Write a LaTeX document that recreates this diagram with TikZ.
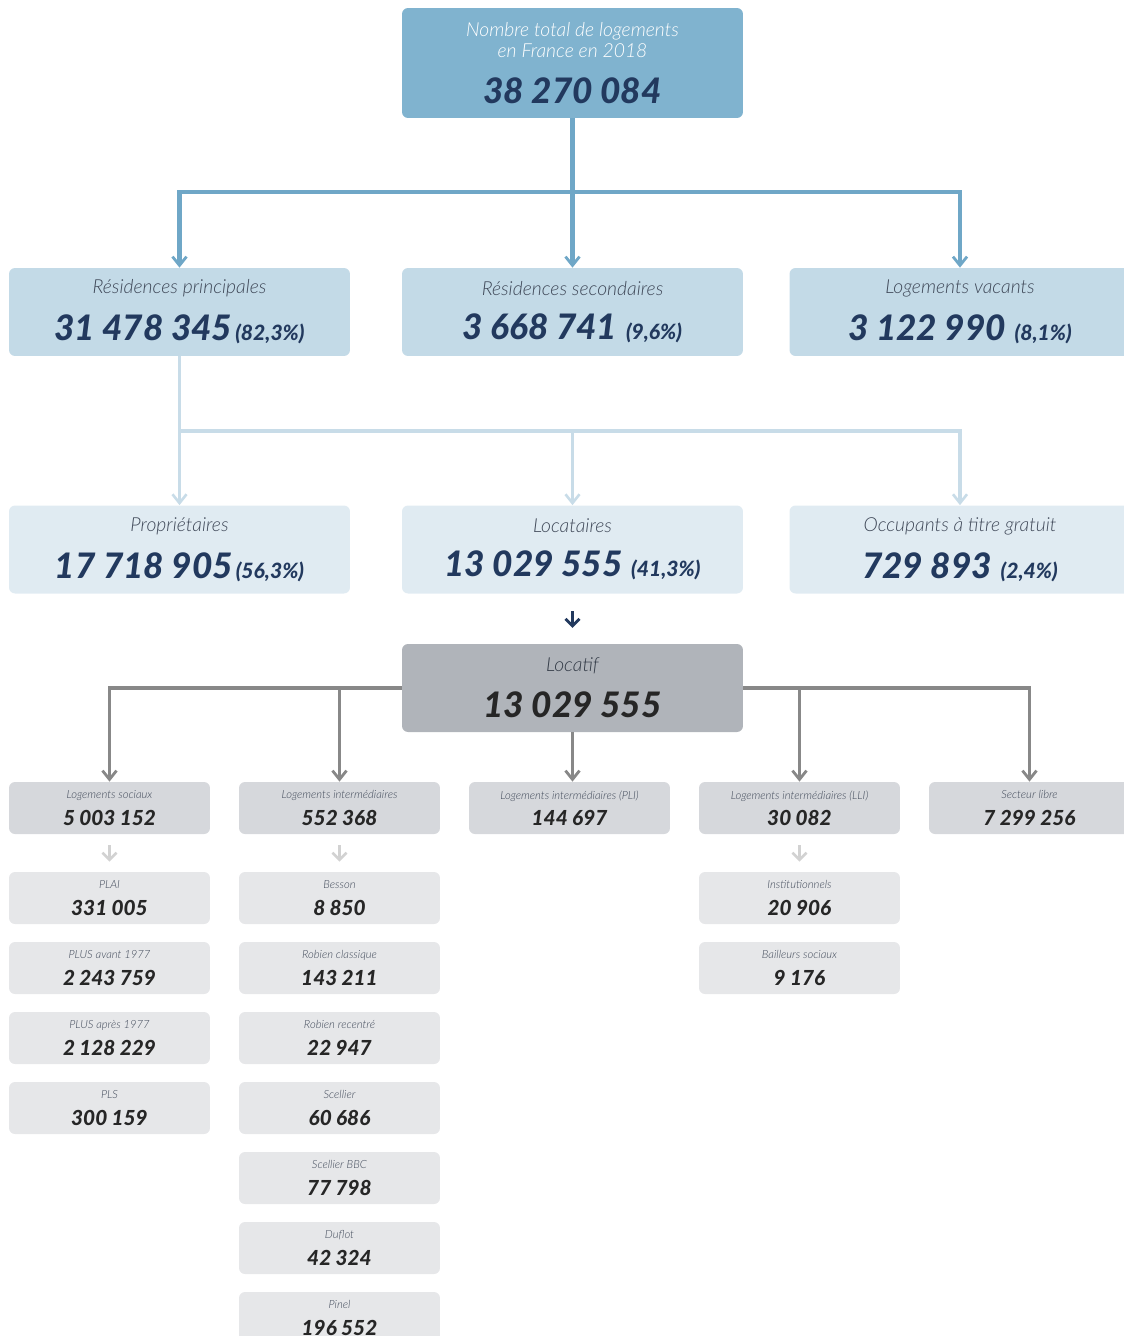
\documentclass[tikz,border=0pt]{standalone}
\usepackage{fontspec}
\setmainfont{Lato}
\IfFontExistsTF{Lato Black Italic}
  {\newfontfamily\heavyfam{Lato Black Italic}\newcommand{\heavyfont}{\heavyfam}}
  {\newfontfamily\heavyfam{Lato}[FakeBold=0.6]\newcommand{\heavyfont}{\heavyfam\bfseries\itshape}}
\IfFontExistsTF{Lato Light Italic}
  {\newfontfamily\lightfont{Lato Light Italic}}
  {\newcommand{\lightfont}{\itshape}}
\usetikzlibrary{arrows.meta, positioning, calc}
\definecolor{ctop}{HTML}{80B3CF}
\definecolor{cmid}{HTML}{C3DAE7}
\definecolor{clow}{HTML}{E0EBF2}
\definecolor{cnavy}{HTML}{22395E}
\definecolor{clabel}{HTML}{3F4858}
\definecolor{cline}{HTML}{6FA7C7}
\definecolor{clinelt}{HTML}{C8DCE8}
\definecolor{cloc}{HTML}{B0B4BA}
\definecolor{cgrey}{HTML}{888888}
\definecolor{cfour}{HTML}{D6D8DC}
\definecolor{csub}{HTML}{E6E7E9}
\definecolor{cfaint}{HTML}{D2D2D2}
\definecolor{cink}{HTML}{262626}
\newcommand{\lab}{\fontsize{11}{13.5}\selectfont\lightfont}
\newcommand{\bignumb}{\fontsize{20}{22}\selectfont\heavyfont}
\newcommand{\pct}{\fontsize{12}{13}\selectfont\heavyfont}
\newcommand{\smlab}{\fontsize{6.4}{8}\selectfont\lightfont}
\newcommand{\smnumb}{\fontsize{11.8}{13}\selectfont\heavyfont}
\tikzset{
  every picture/.style={x=0.02cm, y=-0.02cm},
  card/.style={fill=#1, rounded corners=3.4pt, align=center, inner sep=0pt},
  wide/.style={card=#1, minimum width=6.82cm, minimum height=1.76cm},
  narrow/.style={card=#1, minimum width=4.02cm, minimum height=1.04cm},
  blink/.style={draw=cline, line width=2.3pt},
  blarrow/.style={blink, -{Straight Barb[length=5pt, width=8pt, line width=1.6pt]}},
  ltlink/.style={draw=clinelt, line width=1.9pt},
  ltarrow/.style={ltlink, -{Straight Barb[length=5pt, width=8pt, line width=1.5pt]}},
  glink/.style={draw=cgrey, line width=2pt},
  garrow/.style={glink, -{Straight Barb[length=5pt, width=8pt, line width=1.6pt]}},
  farrow/.style={draw=cfaint, line width=2pt, -{Straight Barb[length=4pt, width=8pt, line width=1.5pt]}, shorten <=6.2pt, shorten >=5.7pt},
}

\begin{document}
\begin{tikzpicture}
  \useasboundingbox (0,0) rectangle (1124,1336);
  % totals
  \node[wide=ctop, minimum height=2.2cm] (tot) at (572.5,63)
    {\lab\color{white}Nombre total de logements\\[0pt]\lab\color{white}en France en 2018\\[10pt]\bignumb\color{cnavy}38 270 084};
  \node[wide=cmid] (rp) at (179.5,312) {\lab\color{clabel}Résidences principales\\[9pt]\color{cnavy}{\bignumb 31 478 345}\,{\pct (82,3\%)}};
  \node[wide=cmid] (rs) at (572.5,312) {\lab\color{clabel}Résidences secondaires\\[9pt]\color{cnavy}{\bignumb 3 668 741}\enspace{\pct (9,6\%)}};
  \node[wide=cmid] (lv) at (960,312) {\lab\color{clabel}Logements vacants\\[9pt]\color{cnavy}{\bignumb 3 122 990}\enspace{\pct (8,1\%)}};
  \coordinate (j1) at (572.5,192);
  \draw[blink] (tot.south) -- (j1);
  \draw[blarrow] (j1) -| (rp.north);
  \draw[blarrow] (j1) -- (rs.north);
  \draw[blarrow] (j1) -| (lv.north);

  % occupation
  \node[wide=clow] (pr) at (179.5,549.5) {\lab\color{clabel}Propriétaires\\[9pt]\color{cnavy}{\bignumb 17 718 905}\,{\pct (56,3\%)}};
  \node[wide=clow] (lo) at (572.5,549.5) {\lab\color{clabel}Locataires\\[9pt]\color{cnavy}{\bignumb 13 029 555}\enspace{\pct (41,3\%)}};
  \node[wide=clow] (oc) at (960,549.5) {\lab\color{clabel}Occupants à titre gratuit\\[9pt]\color{cnavy}{\bignumb 729 893}\enspace{\pct (2,4\%)}};
  \coordinate (j2) at (179.5,431);
  \draw[ltlink] (rp.south) -- (j2);
  \draw[ltarrow] (j2) -- (pr.north);
  \draw[ltarrow] (j2) -| (lo.north);
  \draw[ltarrow] (j2) -| (oc.north);

  % locatif
  \node[wide=cloc] (loc) at (572.5,688) {\lab\color{clabel!80!black}Locatif\\[9pt]\bignumb\color{cink}13 029 555};
  \draw[draw=cnavy, line width=2pt, -{Straight Barb[length=4pt, width=8pt, line width=1.6pt]}, shorten <=10pt, shorten >=9pt] (lo.south) -- (loc.north);

  \node[narrow=cfour] (ls) at (109.5,808) {\smlab\color{clabel}Logements sociaux\\[3pt]\smnumb\color{cink}5 003 152};
  \node[narrow=cfour] (li) at (339.5,808) {\smlab\color{clabel}Logements intermédiaires\\[3pt]\smnumb\color{cink}552 368};
  \node[narrow=cfour] (lpli) at (569.5,808) {\smlab\color{clabel}Logements intermédiaires (PLI)\\[3pt]\smnumb\color{cink}144 697};
  \node[narrow=cfour] (llli) at (799.5,808) {\smlab\color{clabel}Logements intermédiaires (LLI)\\[3pt]\smnumb\color{cink}30 082};
  \node[narrow=cfour] (sl) at (1029.5,808) {\smlab\color{clabel}Secteur libre\\[3pt]\smnumb\color{cink}7 299 256};
  \draw[garrow] (loc.west) -| (ls.north);
  \draw[garrow] (loc.west) -| (li.north);
  \draw[garrow] (loc.south) -- (loc.south |- lpli.north);
  \draw[garrow] (loc.east) -| (llli.north);
  \draw[garrow] (loc.east) -| (sl.north);

  % details
  \foreach \lbl/\val [count=\i] in {PLAI/331 005, PLUS avant 1977/2 243 759, PLUS après 1977/2 128 229, PLS/300 159}
    \node[narrow=csub] (soc\i) at (109.5,828+70*\i) {\smlab\color{clabel}\lbl\\[3pt]\smnumb\color{cink}\val};
  \foreach \lbl/\val [count=\i] in {Besson/8 850, Robien classique/143 211, Robien recentré/22 947, Scellier/60 686, Scellier BBC/77 798, Duflot/42 324, Pinel/196 552}
    \node[narrow=csub] (int\i) at (339.5,828+70*\i) {\smlab\color{clabel}\lbl\\[3pt]\smnumb\color{cink}\val};
  \foreach \lbl/\val [count=\i] in {Institutionnels/20 906, Bailleurs sociaux/9 176}
    \node[narrow=csub] (lli\i) at (799.5,828+70*\i) {\smlab\color{clabel}\lbl\\[3pt]\smnumb\color{cink}\val};
  \draw[farrow] (ls.south) -- (soc1.north);
  \draw[farrow] (li.south) -- (int1.north);
  \draw[farrow] (llli.south) -- (lli1.north);
\end{tikzpicture}
\end{document}
